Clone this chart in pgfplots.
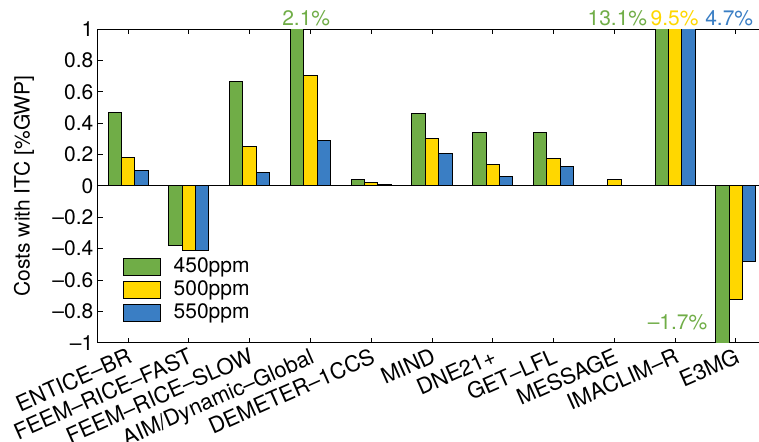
\documentclass[border=0pt]{standalone}
\usepackage{pgfplots}
\usepackage{pgfplotstable}
\pgfplotsset{compat=1.18}
\usepackage{fontspec}
\setmainfont{TeX Gyre Heros}

\definecolor{cgreen}{RGB}{112,173,71}
\definecolor{cyellow}{RGB}{255,215,0}
\definecolor{cblue}{RGB}{58,126,196}
\newcommand\lf{\fontsize{10.5}{12.6}\selectfont}

% model, 450ppm, 500ppm, 550ppm
\pgfplotstableread{
x   a       b       c
0   0.468   0.181   0.096
1   -0.378  -0.412  -0.412
2   0.668   0.251   0.089
3   2.1     0.702   0.292
4   0.041   0.024   0.010
5   0.462   0.306   0.207
6   0.341   0.134   0.060
7   0.341   0.177   0.124
8   0.003   0.041   0.003
9   13.1    9.5     4.7
10  -1.7    -0.725  -0.485
}\costs

\begin{document}
\begin{tikzpicture}
\begin{axis}[
    at={(0,0)}, anchor=south west,
    scale only axis,
    width=330.65pt, height=156.7pt,
    ybar=0pt, bar width=6.67pt,
    xmin=-0.5, xmax=10.38,
    ymin=-1, ymax=1,
    axis x line*=box, axis y line*=left,
    axis line style={black, line width=0.6pt},
    tick align=inside,
    major tick length=2.5pt,
    tick style={black, line width=0.5pt},
    xtick={0,...,10},
    xticklabels={ENTICE--BR, FEEM--RICE--FAST, FEEM--RICE--SLOW, AIM/Dynamic--Global, DEMETER--1CCS, MIND, DNE21+, GET--LFL, MESSAGE, IMACLIM--R, E3MG},
    x tick label style={rotate=24, anchor=north east, inner sep=1.5pt, font=\fontsize{11}{13}\selectfont},
    ytick={-1,-0.8,...,1},
    yticklabels={--1,--0.8,--0.6,--0.4,--0.2,0,0.2,0.4,0.6,0.8,1},
    y tick label style={inner sep=2pt, font=\lf},
    extra y ticks={0}, extra y tick labels={},
    extra y tick style={grid=major, major grid style={black, line width=0.5pt}, tick style={draw=none}},
    ylabel={Costs with ITC [\%GWP]},
    ylabel style={at={(axis description cs:-0.1114,0.5)}, anchor=center, font=\lf},
    every axis plot/.append style={draw=black, line width=0.5pt},
    clip mode=individual,
    legend style={draw=none, fill=none, at={(axis description cs:0.0378,0.2725)}, anchor=north west,
        inner sep=0pt, font=\lf, row sep=2.5pt, nodes={inner sep=0pt}, column sep=6.5pt},
    legend cell align=left,
    legend image code/.code={\draw[#1] (0pt,-4.25pt) rectangle (18.3pt,4.25pt);},
]
\addplot[fill=cgreen] table[x=x, y=a] {\costs};
\addplot[fill=cyellow] table[x=x, y=b] {\costs};
\addplot[fill=cblue] table[x=x, y=c] {\costs};
\legend{450ppm, 500ppm, 550ppm}

\node[cgreen, font=\lf, anchor=base] at (axis cs:2.93,1.0255) {2.1\%};
\node[cgreen, font=\lf, anchor=base] at (axis cs:8.05,1.0255) {13.1\%};
\node[cyellow, font=\lf, anchor=base] at (axis cs:8.99,1.0255) {9.5\%};
\node[cblue, font=\lf, anchor=base] at (axis cs:9.89,1.0255) {4.7\%};
\node[cgreen, font=\lf, anchor=base] at (axis cs:9.04,-0.916) {--1.7\%};
\end{axis}
\pgfresetboundingbox
\path[use as bounding box] (-48.85pt,-49.65pt) rectangle (330.65pt,171.35pt);
\end{tikzpicture}
\end{document}
